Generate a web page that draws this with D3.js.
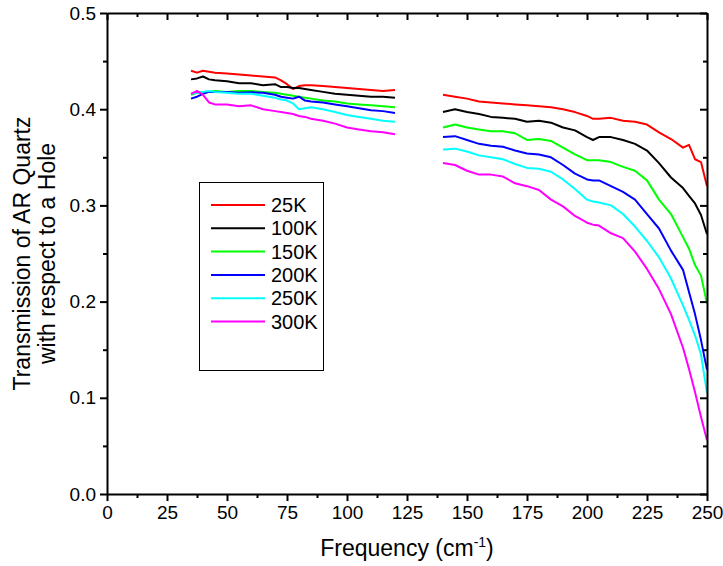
<!DOCTYPE html>
<html>
<head>
<meta charset="utf-8">
<script src="https://cdn.jsdelivr.net/npm/d3@7"></script>
<style>
  body { margin: 0; background: #fff; }
  text { font-family: "Liberation Sans", Arial, sans-serif; fill: #000; }
</style>
</head>
<body>
<svg id="chart" width="723" height="566"></svg>
<script>
// frequency grids for the two measured bands (cm^-1)
var freqLow  = [35, 37.5, 40, 42.5, 45, 50, 55, 60, 65, 70, 72.5, 75, 77.5, 80, 82.5, 85, 90, 95, 100, 105, 110, 115, 120];
var freqHigh = [140, 145, 150, 155, 160, 165, 170, 175, 180, 185, 190, 195, 200, 202.5, 205, 210, 215, 220, 225, 230, 235, 240, 242.5, 245, 247.5, 250];

var seriesNames = ["25K", "100K", "150K", "200K", "250K", "300K"];
var seriesColors = ["#ff0000", "#000000", "#00ff00", "#0000ff", "#00ffff", "#ff00ff"];

var low25  = [0.440, 0.438, 0.440, 0.439, 0.438, 0.437, 0.436, 0.435, 0.434, 0.433, 0.430, 0.426, 0.421, 0.424, 0.425, 0.425, 0.424, 0.423, 0.422, 0.421, 0.420, 0.419, 0.420];
var low100 = [0.431, 0.432, 0.434, 0.431, 0.430, 0.429, 0.427, 0.427, 0.425, 0.426, 0.423, 0.423, 0.422, 0.422, 0.421, 0.420, 0.418, 0.416, 0.415, 0.414, 0.413, 0.413, 0.412];
var low150 = [0.415, 0.417, 0.418, 0.418, 0.419, 0.418, 0.419, 0.419, 0.418, 0.417, 0.416, 0.415, 0.414, 0.413, 0.412, 0.411, 0.409, 0.408, 0.406, 0.405, 0.404, 0.403, 0.402];
var low200 = [0.411, 0.413, 0.416, 0.418, 0.418, 0.418, 0.417, 0.4175, 0.417, 0.415, 0.413, 0.412, 0.411, 0.413, 0.409, 0.408, 0.407, 0.405, 0.403, 0.401, 0.399, 0.398, 0.396];
var low250 = [0.416, 0.417, 0.418, 0.419, 0.418, 0.417, 0.416, 0.416, 0.414, 0.412, 0.410, 0.409, 0.406, 0.400, 0.401, 0.402, 0.400, 0.397, 0.394, 0.392, 0.390, 0.388, 0.387];
var low300 = [0.416, 0.419, 0.415, 0.407, 0.405, 0.405, 0.403, 0.404, 0.400, 0.398, 0.397, 0.396, 0.395, 0.393, 0.392, 0.390, 0.388, 0.385, 0.381, 0.379, 0.377, 0.376, 0.374];

var high25  = [0.415, 0.413, 0.411, 0.408, 0.407, 0.406, 0.405, 0.404, 0.403, 0.402, 0.400, 0.397, 0.393, 0.390, 0.390, 0.391, 0.388, 0.387, 0.384, 0.376, 0.369, 0.360, 0.363, 0.348, 0.345, 0.320];
var high100 = [0.397, 0.400, 0.397, 0.395, 0.392, 0.391, 0.390, 0.387, 0.388, 0.386, 0.381, 0.378, 0.371, 0.368, 0.371, 0.371, 0.368, 0.364, 0.357, 0.344, 0.329, 0.318, 0.310, 0.302, 0.290, 0.270];
var high150 = [0.381, 0.384, 0.381, 0.379, 0.377, 0.377, 0.375, 0.368, 0.369, 0.367, 0.360, 0.353, 0.347, 0.347, 0.347, 0.345, 0.340, 0.336, 0.326, 0.306, 0.291, 0.267, 0.255, 0.238, 0.227, 0.198];
var high200 = [0.371, 0.372, 0.368, 0.364, 0.362, 0.361, 0.357, 0.354, 0.353, 0.350, 0.342, 0.333, 0.327, 0.326, 0.326, 0.320, 0.314, 0.306, 0.291, 0.276, 0.253, 0.233, 0.210, 0.187, 0.160, 0.129];
var high250 = [0.358, 0.359, 0.356, 0.352, 0.350, 0.348, 0.343, 0.339, 0.338, 0.335, 0.327, 0.317, 0.306, 0.304, 0.303, 0.300, 0.291, 0.278, 0.263, 0.246, 0.224, 0.196, 0.181, 0.165, 0.145, 0.105];
var high300 = [0.344, 0.342, 0.336, 0.332, 0.332, 0.330, 0.323, 0.320, 0.316, 0.306, 0.299, 0.289, 0.282, 0.280, 0.279, 0.271, 0.266, 0.252, 0.234, 0.213, 0.187, 0.152, 0.130, 0.106, 0.080, 0.056];

var lowValues  = [low25, low100, low150, low200, low250, low300];
var highValues = [high25, high100, high150, high200, high250, high300];

var xTicks = [0, 25, 50, 75, 100, 125, 150, 175, 200, 225, 250];
var yTicks = [0.0, 0.1, 0.2, 0.3, 0.4, 0.5];

var margin = {left: 107, top: 13, right: 16, bottom: 72};
var width = 723 - margin.left - margin.right,
    height = 566 - margin.top - margin.bottom;

var svg = d3.select("#chart");
var g = svg.append("g").attr("transform", "translate(" + margin.left + "," + margin.top + ")");

var x = d3.scaleLinear().domain([0, 250]).range([0, width]);
var y = d3.scaleLinear().domain([0, 0.5]).range([height, 0]);

var xMinor = d3.range(12.5, 250, 25);
var yMinor = d3.range(0.05, 0.5, 0.1);

// curves first, frame on top
var line = d3.line().x(function (d) { return x(d[0]); }).y(function (d) { return y(d[1]); });

seriesNames.forEach(function (name, i) {
    [[freqLow, lowValues[i]], [freqHigh, highValues[i]]].forEach(function (seg) {
        g.append("path")
            .datum(d3.zip(seg[0], seg[1]))
            .attr("d", line)
            .attr("fill", "none")
            .attr("stroke", seriesColors[i])
            .attr("stroke-width", 2)
            .attr("stroke-linejoin", "round");
    });
});

function styleAxis(sel) {
    sel.selectAll(".domain").attr("stroke", "#000").attr("stroke-width", 2);
    sel.selectAll(".tick line").attr("stroke", "#000").attr("stroke-width", 2);
    sel.selectAll("text").style("font-size", "19px").style("font-family", "Liberation Sans, Arial, sans-serif");
}

// bottom
var bx = g.append("g").attr("transform", "translate(0," + height + ")")
    .call(d3.axisBottom(x).tickValues(xTicks).tickSize(7).tickSizeOuter(0).tickPadding(5).tickFormat(d3.format("d")));
styleAxis(bx);
g.append("g").attr("transform", "translate(0," + height + ")")
    .call(d3.axisBottom(x).tickValues(xMinor).tickSize(4).tickFormat(""))
    .call(function (s) { s.select(".domain").remove(); styleAxis(s); });

// top
var tx = g.append("g")
    .call(d3.axisTop(x).tickValues(xTicks).tickSize(-7).tickSizeOuter(0).tickFormat(""));
styleAxis(tx);
g.append("g")
    .call(d3.axisTop(x).tickValues(xMinor).tickSize(-4).tickFormat(""))
    .call(function (s) { s.select(".domain").remove(); styleAxis(s); });

// left
var ly = g.append("g")
    .call(d3.axisLeft(y).tickValues(yTicks).tickSize(7).tickSizeOuter(0).tickPadding(4).tickFormat(d3.format(".1f")));
styleAxis(ly);
g.append("g")
    .call(d3.axisLeft(y).tickValues(yMinor).tickSize(4).tickFormat(""))
    .call(function (s) { s.select(".domain").remove(); styleAxis(s); });

// right
var ry = g.append("g").attr("transform", "translate(" + width + ",0)")
    .call(d3.axisRight(y).tickValues(yTicks).tickSize(-7).tickSizeOuter(0).tickFormat(""));
styleAxis(ry);
g.append("g").attr("transform", "translate(" + width + ",0)")
    .call(d3.axisRight(y).tickValues(yMinor).tickSize(-4).tickFormat(""))
    .call(function (s) { s.select(".domain").remove(); styleAxis(s); });

// axis titles
var xt = svg.append("text")
    .attr("x", margin.left + width / 2)
    .attr("y", 556)
    .attr("text-anchor", "middle")
    .style("font-size", "23px");
xt.append("tspan").text("Frequency (cm");
xt.append("tspan").attr("dy", -9).style("font-size", "14px").text("-1");
xt.append("tspan").attr("dy", 9).text(")");

var yt = svg.append("text")
    .attr("transform", "translate(0," + (margin.top + height / 2) + ") rotate(-90)")
    .attr("text-anchor", "middle")
    .style("font-size", "23px");
yt.append("tspan").attr("x", 0).attr("y", 30).text("Transmission of AR Quartz");
yt.append("tspan").attr("x", 0).attr("y", 55).text("with respect to a Hole");

// legend
var legend = svg.append("g");
legend.append("rect")
    .attr("x", 199.5).attr("y", 182.5)
    .attr("width", 124).attr("height", 188)
    .attr("fill", "#fff").attr("stroke", "#000").attr("stroke-width", 1);

seriesNames.forEach(function (name, i) {
    var ly0 = 205 + i * 23.3;
    legend.append("line")
        .attr("x1", 211).attr("x2", 265)
        .attr("y1", ly0).attr("y2", ly0)
        .attr("stroke", seriesColors[i]).attr("stroke-width", 2);
    legend.append("text")
        .attr("x", 271).attr("y", ly0 + 7)
        .style("font-size", "20px")
        .text(name);
});
</script>
</body>
</html>
